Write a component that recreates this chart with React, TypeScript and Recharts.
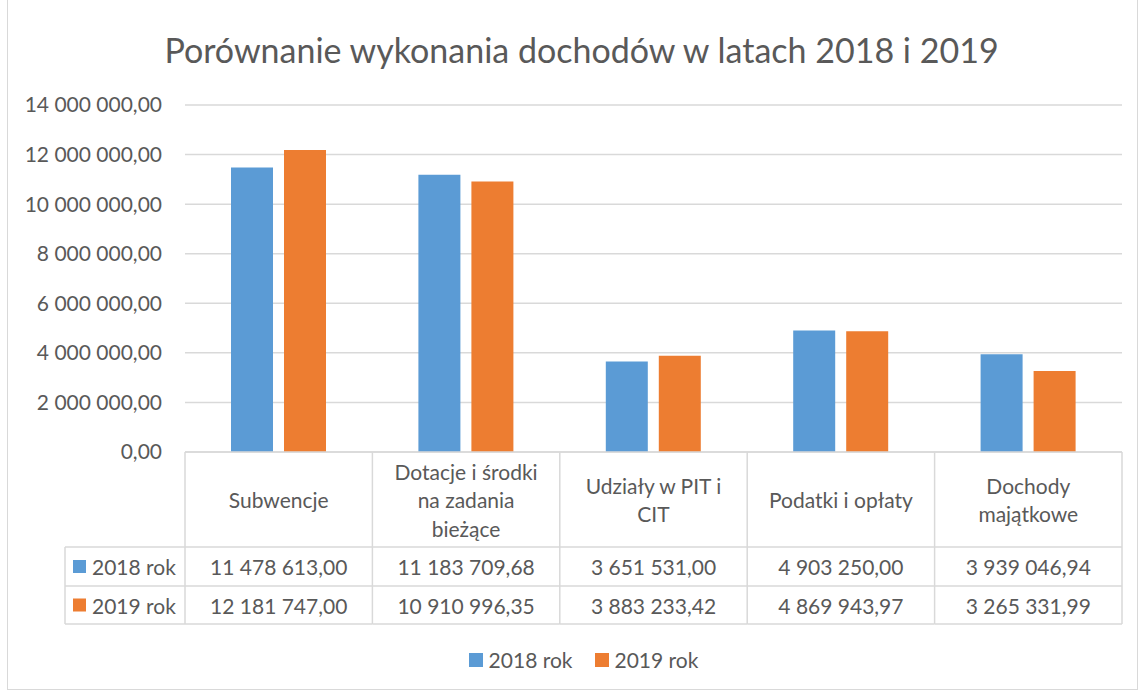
import { BarChart, Bar, XAxis, YAxis, CartesianGrid } from 'recharts';

// category names, line breaks as wrapped in the data table header
const categories = [
  'Subwencje',
  'Dotacje i środki\nna zadania\nbieżące',
  'Udziały w PIT i\nCIT',
  'Podatki i opłaty',
  'Dochody\nmajątkowe',
];

const seriesNames = ['2018 rok', '2019 rok'];
const seriesColors = ['#5B9BD5', '#ED7D31'];

const values2018 = [11478613.0, 11183709.68, 3651531.0, 4903250.0, 3939046.94];
const values2019 = [12181747.0, 10910996.35, 3883233.42, 4869943.97, 3265331.99];

const yTicks = [0, 2000000, 4000000, 6000000, 8000000, 10000000, 12000000, 14000000];

const title = 'Porównanie wykonania dochodów w latach 2018 i 2019';

const data = categories.map((name, i) => ({
  name,
  y2018: values2018[i],
  y2019: values2019[i],
}));

const FONT = 'Lato, "Open Sans", sans-serif';
const TEXT = '#595959';
const LINE = '#d9d9d9';
const FS = 21;

// table geometry below the plot
const HEADER_H = 95;
const ROW1_H = 39;
const ROW2_H = 38;
const KEY_W = 120;

// "11 478 613,00"
const fmt = (n: number) => {
  const [int, dec] = n.toFixed(2).split('.');
  return int.replace(/\B(?=(\d{3})+(?!\d))/g, ' ') + ',' + dec;
};

const TableTick = (props: any) => {
  const { x, y, payload } = props;
  const i = categories.indexOf(payload.value);
  const half = payload.offset || 93.7;
  const left = x - half;
  const right = x + half;
  const lines = categories[i].split('\n');
  const lh = 28.5;
  const headMid = y + HEADER_H / 2;
  const r1 = y + HEADER_H + ROW1_H / 2;
  const r2 = y + HEADER_H + ROW1_H + ROW2_H / 2;
  const bottom = y + HEADER_H + ROW1_H + ROW2_H;
  const rowVals = [values2018, values2019];

  return (
    <g fontFamily={FONT} fontSize={FS} fill={TEXT}>
      {/* cell borders */}
      <line x1={left} y1={y} x2={left} y2={bottom} stroke={LINE} strokeWidth={1.5} />
      {i === categories.length - 1 && (
        <line x1={right} y1={y} x2={right} y2={bottom} stroke={LINE} strokeWidth={1.5} />
      )}
      <line x1={left} y1={y + HEADER_H} x2={right} y2={y + HEADER_H} stroke={LINE} strokeWidth={1.5} />
      <line x1={left} y1={y + HEADER_H + ROW1_H} x2={right} y2={y + HEADER_H + ROW1_H} stroke={LINE} strokeWidth={1.5} />
      <line x1={left} y1={bottom} x2={right} y2={bottom} stroke={LINE} strokeWidth={1.5} />

      {lines.map((t, k) => (
        <text
          key={k}
          x={x}
          y={headMid + (k - (lines.length - 1) / 2) * lh}
          textAnchor="middle"
          dominantBaseline="central"
        >
          {t}
        </text>
      ))}
      {rowVals.map((vals, k) => (
        <text key={k} x={x} y={k === 0 ? r1 : r2} textAnchor="middle" dominantBaseline="central">
          {fmt(vals[i])}
        </text>
      ))}

      {/* legend key column on the left of the table */}
      {i === 0 && (
        <g>
          <line x1={left - KEY_W} y1={y + HEADER_H} x2={left} y2={y + HEADER_H} stroke={LINE} strokeWidth={1.5} />
          <line x1={left - KEY_W} y1={y + HEADER_H + ROW1_H} x2={left} y2={y + HEADER_H + ROW1_H} stroke={LINE} strokeWidth={1.5} />
          <line x1={left - KEY_W} y1={bottom} x2={left} y2={bottom} stroke={LINE} strokeWidth={1.5} />
          <line x1={left - KEY_W} y1={y + HEADER_H} x2={left - KEY_W} y2={bottom} stroke={LINE} strokeWidth={1.5} />
          {seriesNames.map((s, k) => {
            const cy = k === 0 ? r1 : r2;
            return (
              <g key={s}>
                <rect x={left - KEY_W + 8} y={cy - 6.5} width={13} height={13} fill={seriesColors[k]} />
                <text x={left - KEY_W + 27} y={cy} dominantBaseline="central">
                  {s}
                </text>
              </g>
            );
          })}
        </g>
      )}
    </g>
  );
};

export default function App() {
  return (
    <div
      style={{
        position: 'absolute',
        left: 0,
        top: 0,
        width: 1139,
        height: 695,
        background: '#fff',
        fontFamily: FONT,
      }}
    >
      {/* chart frame */}
      <div
        style={{
          position: 'absolute',
          left: 7,
          top: -1,
          width: 1129,
          height: 689,
          border: `1.5px solid ${LINE}`,
        }}
      />

      <div
        style={{
          position: 'absolute',
          left: 0,
          top: 27,
          width: 1163,
          textAlign: 'center',
          fontSize: 34,
          color: TEXT,
          lineHeight: '46px',
          whiteSpace: 'nowrap',
        }}
      >
        {title}
      </div>

      <div style={{ position: 'absolute', left: 0, top: 0 }}>
        <BarChart
          width={1139}
          height={695}
          data={data}
          margin={{ top: 105, right: 17, left: 0, bottom: 71 }}
          barSize={42}
          barGap={11}
        >
          <CartesianGrid vertical={false} stroke={LINE} strokeWidth={1.5} />
          <YAxis
            width={185}
            domain={[0, 14000000]}
            ticks={yTicks}
            tickFormatter={fmt}
            axisLine={false}
            tickLine={false}
            tickSize={0}
            tickMargin={23}
            tick={{ fill: TEXT, fontSize: FS, fontFamily: FONT }}
          />
          <XAxis
            dataKey="name"
            height={172}
            interval={0}
            axisLine={{ stroke: LINE, strokeWidth: 1.5 }}
            tickLine={false}
            tickSize={0}
            tickMargin={0}
            tick={<TableTick />}
          />
          <Bar dataKey="y2018" name={seriesNames[0]} fill={seriesColors[0]} isAnimationActive={false} />
          <Bar dataKey="y2019" name={seriesNames[1]} fill={seriesColors[1]} isAnimationActive={false} />
        </BarChart>
      </div>

      {/* legend */}
      <div
        style={{
          position: 'absolute',
          left: 0,
          top: 645,
          width: 1167,
          display: 'flex',
          justifyContent: 'center',
          gap: 22,
          fontSize: FS,
          color: TEXT,
          lineHeight: '30px',
        }}
      >
        {seriesNames.map((s, k) => (
          <div key={s} style={{ display: 'flex', alignItems: 'center', gap: 6 }}>
            <span style={{ width: 14, height: 14, background: seriesColors[k], display: 'inline-block' }} />
            <span>{s}</span>
          </div>
        ))}
      </div>
    </div>
  );
}
